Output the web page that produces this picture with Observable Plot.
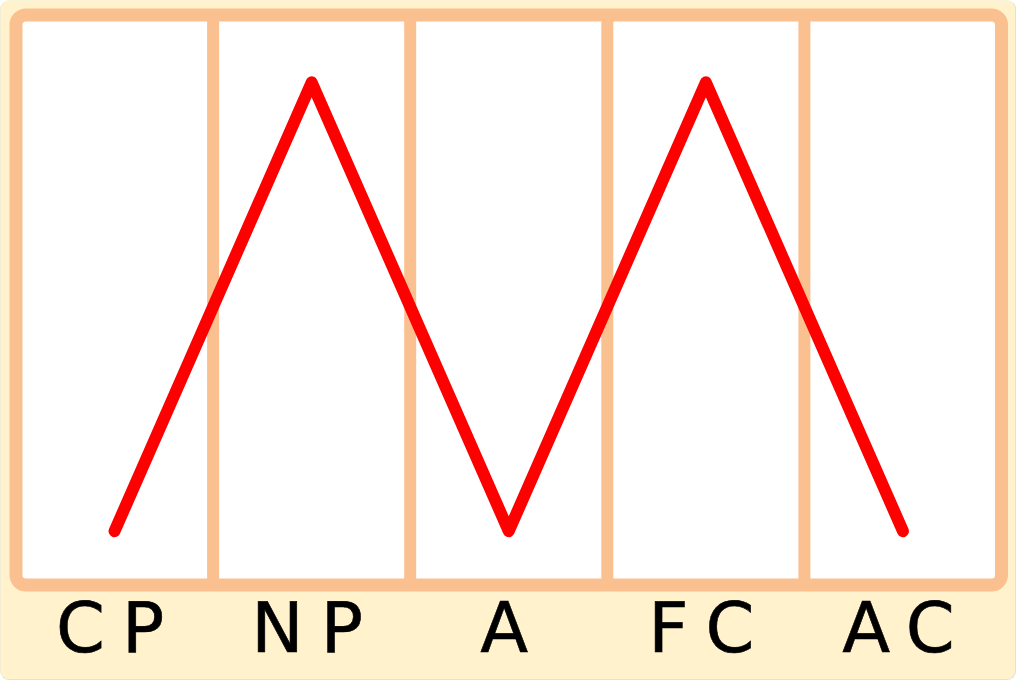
<!DOCTYPE html>
<html>
<head>
<meta charset="utf-8">
<script src="https://cdn.jsdelivr.net/npm/d3@7"></script>
<script src="https://cdn.jsdelivr.net/npm/@observablehq/plot@0.6"></script>
<style>
  html, body { margin: 0; padding: 0; background: white; }
  #panel {
    position: absolute; left: 0; top: 0;
    width: 1014px; height: 678px;
    background: #fff2cc;
    border-radius: 9px;
    border: 1px solid #e6e0cc;
    border-top-color: #fbf3da; border-left-color: #f3ecd4;
  }
  #chart { position: absolute; left: 0; top: 0; }
</style>
</head>
<body>
<div id="panel"></div>
<div id="chart"></div>
<script>
const categories = ["CP", "NP", "A", "FC", "AC"];
const values = [0, 1, 0, 1, 0];

const peach = "#fbc08f";
const data = categories.map((c, i) => ({ i, c, v: values[i] }));
const separators = categories.slice(1).map((c, i) => i + 0.5);

const chart = Plot.plot({
  width: 1018,
  height: 685,
  marginLeft: 15.5,
  marginRight: 17,
  marginTop: 14.5,
  marginBottom: 100.5,
  style: { background: "transparent", overflow: "visible" },
  x: { type: "linear", domain: [-0.5, categories.length - 0.5], label: null },
  y: { domain: [-0.12, 1.15], axis: null, label: null },
  marks: [
    Plot.frame({ fill: "white", stroke: peach, strokeWidth: 13, rx: 10 }),
    Plot.ruleX(separators, { stroke: peach, strokeWidth: 12 }),
    Plot.line(data, {
      x: "i", y: "v", stroke: "#ff0000", strokeWidth: 12,
      strokeLinecap: "round", strokeLinejoin: "round"
    }),
    Plot.axisX(data.map(d => d.i), {
      label: null,
      tickSize: 0, tickPadding: 17,
      tickFormat: i => categories[i],
      fontSize: 70, fill: "black",
      fontFamily: "DejaVu Sans"
    })
  ]
});
chart.querySelectorAll("text").forEach(t => {
  t.style.letterSpacing = "17px";
  t.style.strokeWidth = "0.6px";
  t.style.stroke = "black";
  t.setAttribute("dx", "4");
});
document.getElementById("chart").appendChild(chart);
</script>
</body>
</html>
